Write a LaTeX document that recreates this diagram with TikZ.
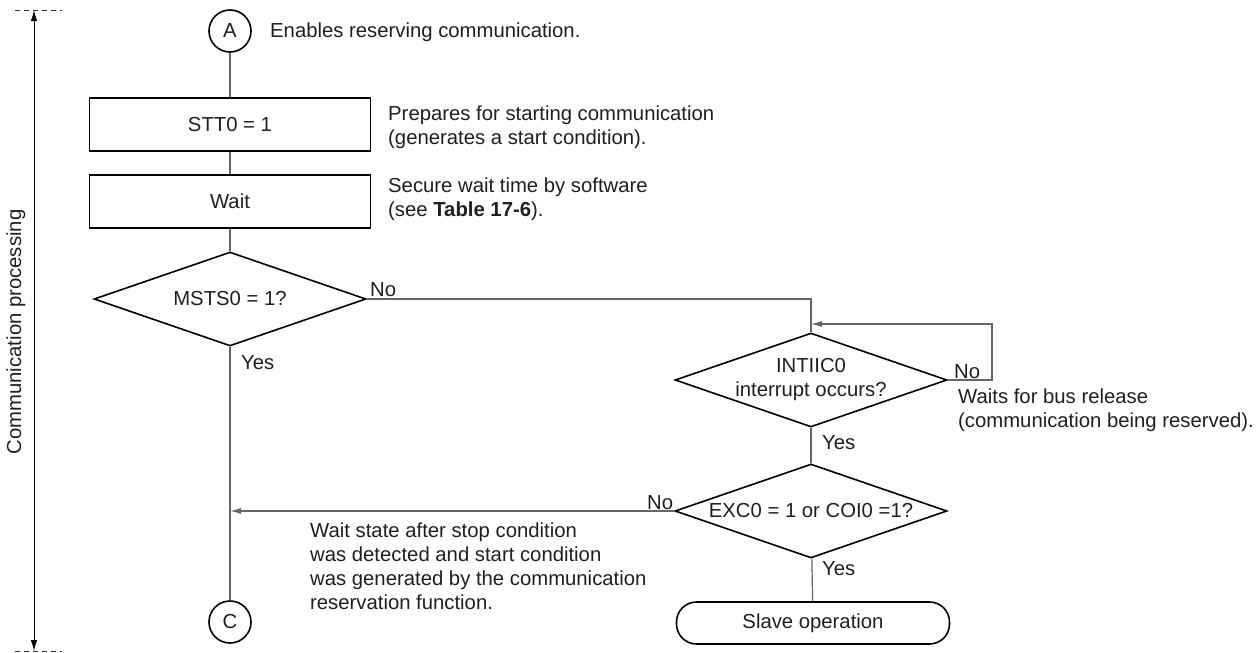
\documentclass[tikz,border=0pt]{standalone}
\usepackage{fontspec}
\setmainfont{Liberation Sans}
\usetikzlibrary{shapes.geometric,arrows.meta}
\definecolor{conn}{gray}{0.4}
\definecolor{txt}{gray}{0.12}
\begin{document}
\begin{tikzpicture}[x=1pt,y=-1pt,
  font=\fontsize{20.3}{24}\selectfont,
  every node/.style={text=txt},
  shapeline/.style={draw=black,line width=1.6pt},
  procbox/.style={shapeline,rectangle,minimum width=281pt,minimum height=53pt,inner sep=0pt},
  decision/.style={shapeline,diamond,minimum width=272pt,minimum height=94pt,inner sep=0pt},
  terminal/.style={shapeline,rectangle,rounded corners=20pt,minimum width=273pt,minimum height=42pt,inner sep=0pt},
  connect/.style={shapeline,circle,minimum size=42pt,inner sep=0pt},
  connector/.style={draw=conn,line width=1.2pt},
  arrowed/.style={-{Latex[length=11pt,width=6pt]}},
  note/.style={anchor=west,inner sep=0pt,align=left},
  rangemark/.style={draw=black!80,line width=1pt,dash pattern=on 5pt off 4pt}
]
\useasboundingbox (0,0) rectangle (1259,653);

% range arrow at the left
\coordinate (rangeTop) at (34,10);
\coordinate (rangeBot) at (34,651);
\coordinate (dashTL) at (15,10);
\coordinate (dashTR) at (62,10);
\coordinate (dashBL) at (15,651);
\coordinate (dashBR) at (62,651);
\draw[rangemark] (dashTL) -- (dashTR);
\draw[rangemark] (dashBL) -- (dashBR);
\draw[line width=1pt,draw=black,{Latex[length=11pt,width=6.5pt]}-{Latex[length=11pt,width=6.5pt]}] (rangeTop) -- (rangeBot);
\node[rotate=90,inner sep=0pt] (rangeText) at (16,332) {Communication processing};

% main column
\node[connect] (A) at (230,31) {A};
\node[note] (Anote) at (270,32) {Enables reserving communication.};
\node[procbox] (stt) at (230,124.5) {STT0 = 1};
\node[note] (sttnote) at (388,127) {Prepares for starting communication\\(generates a start condition).};
\node[procbox] (wait) at (230,201.5) {Wait};
\node[note] (waitnote) at (388,199) {Secure wait time by software\\(see \textbf{Table 17-6}).};
\node[decision,label=center:{MSTS0 = 1?}] (msts) at (230,299) {};
\node[connect] (C) at (230,622) {C};

% right column
\node[decision,label={[align=center]center:INTIIC0\\interrupt occurs?}] (int) at (811,380) {};
\node[decision,label=center:{EXC0 = 1 or COI0 =1?}] (exc) at (811,511) {};
\node[terminal] (slave) at (813,623) {Slave operation};

% connectors
\draw[connector] (A) -- (stt);
\draw[connector] (stt) -- (wait);
\draw[connector] (wait) -- (msts);
\draw[connector] (msts) -- (C);
\draw[connector] (msts.east) -| (int.north);
\coordinate (loopT) at (992,324);
\coordinate (loopEnd) at (811,324);
\draw[connector,arrowed] (int.east) -| (loopT) -- (loopEnd);
\draw[connector] (int) -- (exc);
\draw[connector,arrowed] (exc.west) -- (exc.west -| C);
\draw[connector] (exc) -- (slave);

% labels
\node[note] (noMsts) at (370,290) {No};
\node[note] (yesMsts) at (241,363) {Yes};
\node[note] (noInt) at (954,372) {No};
\node[note] (intnote) at (958,410) {Waits for bus release\\(communication being reserved).};
\node[note] (yesInt) at (822,443) {Yes};
\node[note] (noExc) at (647,503) {No};
\node[note] (excnote) at (310,566) {Wait state after stop condition\\was detected and start condition\\was generated by the communication\\reservation function.};
\node[note] (yesExc) at (822,569) {Yes};
\end{tikzpicture}
\end{document}
